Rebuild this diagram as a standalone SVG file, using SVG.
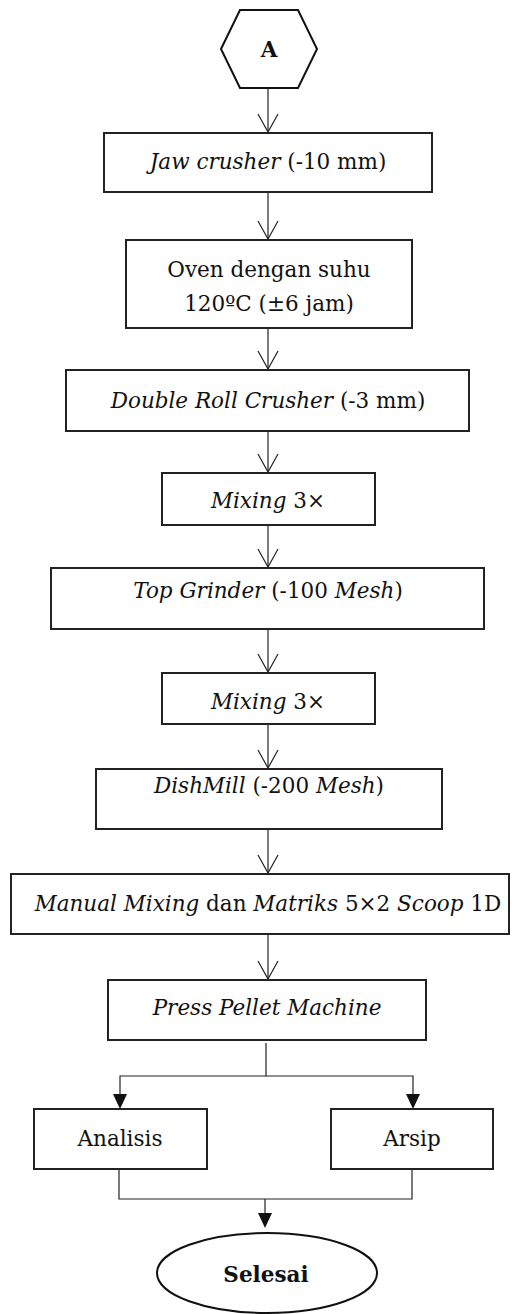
<svg xmlns="http://www.w3.org/2000/svg" width="519" height="1314" viewBox="0 0 519 1314">
<style>
.box{fill:#fff;stroke:#222;stroke-width:2}
.t{font-family:"DejaVu Serif","Liberation Serif",serif;font-size:21.5px;fill:#111;text-anchor:middle}
.b{font-weight:bold}
.i{font-style:italic}
.ln{fill:none;stroke:#222;stroke-width:1.2}
.oh{fill:none;stroke:#222;stroke-width:1.2}
.ah{fill:#111;stroke:none}
</style>
<rect width="519" height="1314" fill="#fff"/>
<g id="connectors">
<line class="ln" x1="268" y1="88" x2="268" y2="132"/>
<polyline class="oh" points="258,114 268,132 278,114"/>
<line class="ln" x1="268" y1="192" x2="268" y2="239"/>
<polyline class="oh" points="258,221 268,239 278,221"/>
<line class="ln" x1="268" y1="328" x2="268" y2="369"/>
<polyline class="oh" points="258,351 268,369 278,351"/>
<line class="ln" x1="268" y1="431" x2="268" y2="472"/>
<polyline class="oh" points="258,454 268,472 278,454"/>
<line class="ln" x1="268" y1="525" x2="268" y2="567"/>
<polyline class="oh" points="258,549 268,567 278,549"/>
<line class="ln" x1="268" y1="629" x2="268" y2="672"/>
<polyline class="oh" points="258,654 268,672 278,654"/>
<line class="ln" x1="268" y1="724" x2="268" y2="768"/>
<polyline class="oh" points="258,750 268,768 278,750"/>
<line class="ln" x1="268" y1="829" x2="268" y2="873"/>
<polyline class="oh" points="258,855 268,873 278,855"/>
<line class="ln" x1="268" y1="934" x2="268" y2="979"/>
<polyline class="oh" points="258,961 268,979 278,961"/>
<polyline class="ln" points="266,1043 266,1076 120,1076 120,1095"/>
<polyline class="ln" points="266,1076 413,1076 413,1095"/>
<polygon class="ah" points="113,1094 127,1094 120,1109"/>
<polygon class="ah" points="406,1094 420,1094 413,1109"/>
<polyline class="ln" points="119,1169 119,1199 412,1199 412,1169"/>
<line class="ln" x1="265" y1="1199" x2="265" y2="1214"/>
<polygon class="ah" points="258,1213 272,1213 265,1228"/>
</g>
<g id="start">
<polygon points="221,49 240,10 298,10 317,49 298,88 240,88" fill="#fff" stroke="#111" stroke-width="2"/>
<text class="t b" x="269" y="57">A</text>
</g>
<g id="jaw">
<rect class="box" x="104" y="133" width="328" height="59"/>
<text class="t" x="268" y="169"><tspan class="i">Jaw crusher</tspan> (-10 mm)</text>
</g>
<g id="oven">
<rect class="box" x="126" y="240" width="286" height="88"/>
<text class="t" x="269" y="277">Oven dengan suhu</text>
<text class="t" x="269" y="311">120ºC (±6 jam)</text>
</g>
<g id="double-roll">
<rect class="box" x="66" y="370" width="403" height="61"/>
<text class="t" x="268" y="408"><tspan class="i">Double Roll Crusher</tspan> (-3 mm)</text>
</g>
<g id="mixing1">
<rect class="box" x="162" y="473" width="213" height="52"/>
<text class="t" x="268" y="508"><tspan class="i">Mixing</tspan> 3×</text>
</g>
<g id="top-grinder">
<rect class="box" x="51" y="568" width="433" height="61"/>
<text class="t" x="268" y="598"><tspan class="i">Top Grinder</tspan> (-100 <tspan class="i">Mesh</tspan>)</text>
</g>
<g id="mixing2">
<rect class="box" x="162" y="673" width="213" height="51"/>
<text class="t" x="268" y="709"><tspan class="i">Mixing</tspan> 3×</text>
</g>
<g id="dishmill">
<rect class="box" x="96" y="769" width="346" height="60"/>
<text class="t" x="269" y="793"><tspan class="i">DishMill</tspan> (-200 <tspan class="i">Mesh</tspan>)</text>
</g>
<g id="manual-mixing">
<rect class="box" x="11" y="874" width="498" height="60"/>
<text class="t" x="268" y="911"><tspan class="i">Manual Mixing</tspan> dan <tspan class="i">Matriks</tspan> 5×2 <tspan class="i">Scoop</tspan> 1D</text>
</g>
<g id="press">
<rect class="box" x="108" y="980" width="318" height="60"/>
<text class="t i" x="267" y="1015">Press Pellet Machine</text>
</g>
<g id="analisis">
<rect class="box" x="34" y="1109" width="173" height="60"/>
<text class="t" x="120" y="1146">Analisis</text>
</g>
<g id="arsip">
<rect class="box" x="331" y="1109" width="162" height="60"/>
<text class="t" x="412" y="1146">Arsip</text>
</g>
<g id="selesai">
<ellipse cx="267" cy="1273" rx="110" ry="40" fill="#fff" stroke="#111" stroke-width="2"/>
<text class="t b" x="266" y="1282">Selesai</text>
</g>
</svg>
